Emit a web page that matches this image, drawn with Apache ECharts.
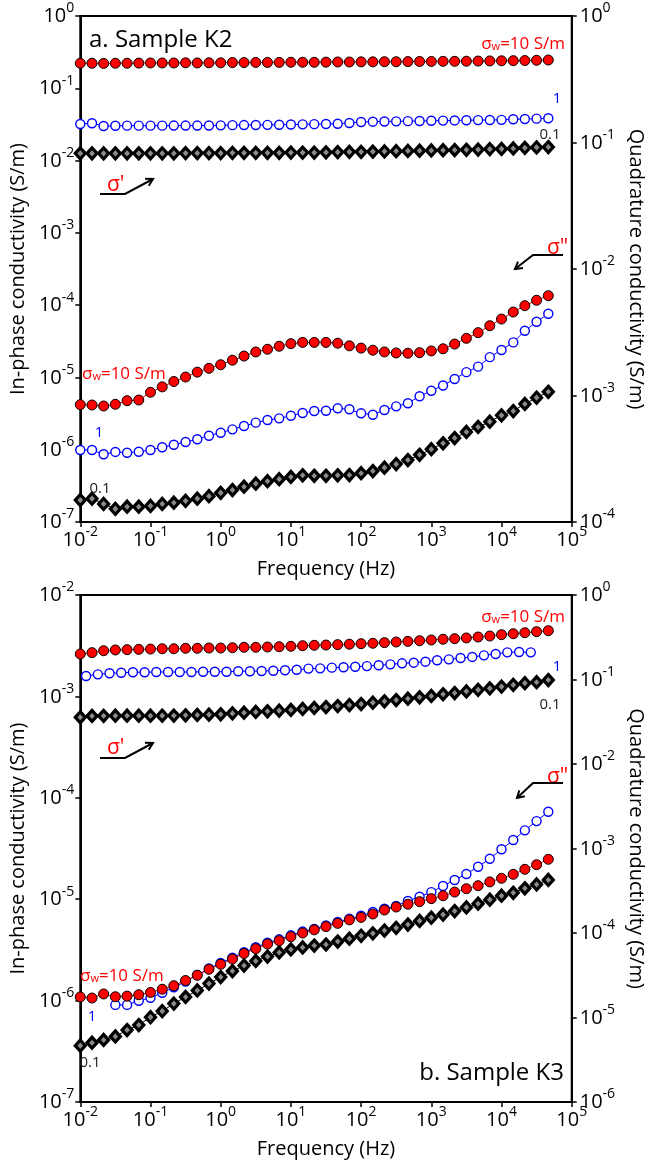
<!DOCTYPE html>
<html><head><meta charset="utf-8">
<script src="https://cdn.jsdelivr.net/npm/echarts@6/dist/echarts.min.js"></script>
<style>html,body{margin:0;padding:0;background:#fff}#c{width:654px;height:1167px}</style>
</head><body><div id="c"></div>
<script>
// ---------- DATA ----------
// Frequencies (Hz), 6 per decade
const freqs = [0.01,0.0147,0.0215,0.0316,0.0464,0.0681,0.1,0.147,0.215,0.316,0.464,0.681,1,1.47,2.15,3.16,4.64,6.81,10,14.7,21.5,31.6,46.4,68.1,100,147,215,316,464,681,1000,1470,2150,3160,4640,6810,10000,14700,21500,31600,46400];
// Frequencies of the sigma_w = 1 S/m in-phase data of sample K3 (offset by half a step)
const freqsHalf = [0.0121,0.0178,0.0261,0.0383,0.0562,0.0825,0.121,0.178,0.261,0.383,0.562,0.825,1.21,1.78,2.61,3.83,5.62,8.25,12.1,17.8,26.1,38.3,56.2,82.5,121,178,261,383,562,825,1210,1780,2610,3830,5620,8250,12100,17800,26100];
// Frequencies of the sigma_w = 1 S/m quadrature data of sample K3
const freqsK3Blue = [0.0316,0.0464,0.0681,0.1,0.147,0.215,0.316,0.464,0.681,1,1.47,2.15,3.16,4.64,6.81,10,14.7,21.5,31.6,46.4,68.1,100,147,215,316,464,681,1000,1470,2150,3160,4640,6810,10000,14700,21500,31600,46400];

// Sample K2 – in-phase conductivity sigma' (S/m)
const k2InPhase10 = [0.222,0.222,0.221,0.222,0.222,0.223,0.224,0.224,0.224,0.225,0.224,0.225,0.225,0.227,0.227,0.228,0.228,0.228,0.229,0.229,0.229,0.230,0.231,0.231,0.232,0.232,0.233,0.233,0.234,0.235,0.235,0.236,0.236,0.237,0.238,0.239,0.240,0.241,0.242,0.244,0.246];
const k2InPhase1 = [0.0321,0.0328,0.0301,0.0303,0.0304,0.0304,0.0304,0.0304,0.0305,0.0305,0.0305,0.0306,0.0307,0.0309,0.0310,0.0311,0.0312,0.0313,0.0315,0.0317,0.0319,0.0321,0.0323,0.0331,0.0342,0.0345,0.0347,0.0349,0.0351,0.0353,0.0355,0.0357,0.0359,0.0361,0.0363,0.0364,0.0366,0.0373,0.0376,0.0380,0.0385];
const k2InPhase01 = [0.0126,0.0126,0.0126,0.0126,0.0126,0.0126,0.0126,0.0126,0.0126,0.0127,0.0127,0.0127,0.0127,0.0128,0.0128,0.0128,0.0128,0.0128,0.0129,0.0129,0.0129,0.0130,0.0131,0.0132,0.0132,0.0133,0.0134,0.0135,0.0136,0.0137,0.0138,0.0139,0.0140,0.0141,0.0142,0.0144,0.0145,0.0147,0.0150,0.0152,0.0154];
// Sample K2 – quadrature conductivity sigma'' (S/m)
const k2Quad10 = [8.46e-4,8.41e-4,8.26e-4,8.52e-4,9.10e-4,9.21e-4,1.06e-3,1.17e-3,1.29e-3,1.40e-3,1.53e-3,1.64e-3,1.75e-3,1.90e-3,2.05e-3,2.21e-3,2.32e-3,2.45e-3,2.57e-3,2.63e-3,2.63e-3,2.63e-3,2.59e-3,2.47e-3,2.37e-3,2.28e-3,2.21e-3,2.17e-3,2.16e-3,2.18e-3,2.25e-3,2.34e-3,2.55e-3,2.83e-3,3.14e-3,3.56e-3,4.02e-3,4.57e-3,5.13e-3,5.66e-3,6.15e-3];
const k2Quad1 = [3.71e-4,3.71e-4,3.43e-4,3.58e-4,3.53e-4,3.59e-4,3.71e-4,3.90e-4,4.08e-4,4.29e-4,4.51e-4,4.81e-4,5.08e-4,5.40e-4,5.74e-4,6.10e-4,6.40e-4,6.60e-4,6.92e-4,7.27e-4,7.54e-4,7.58e-4,7.92e-4,7.78e-4,7.23e-4,7.05e-4,7.68e-4,8.21e-4,8.68e-4,9.86e-4,1.09e-3,1.20e-3,1.35e-3,1.53e-3,1.69e-3,2.01e-3,2.29e-3,2.63e-3,3.25e-3,3.83e-3,4.43e-3];
const k2Quad01 = [1.49e-4,1.53e-4,1.39e-4,1.27e-4,1.32e-4,1.32e-4,1.34e-4,1.39e-4,1.42e-4,1.47e-4,1.53e-4,1.60e-4,1.70e-4,1.79e-4,1.90e-4,2.01e-4,2.10e-4,2.18e-4,2.27e-4,2.34e-4,2.32e-4,2.32e-4,2.34e-4,2.35e-4,2.43e-4,2.53e-4,2.69e-4,2.87e-4,3.09e-4,3.40e-4,3.76e-4,4.19e-4,4.61e-4,5.15e-4,5.64e-4,6.21e-4,6.97e-4,7.54e-4,8.57e-4,9.61e-4,1.07e-3];

// Sample K3 – in-phase conductivity sigma' (S/m)
const k3InPhase10 = [2.62e-3,2.70e-3,2.82e-3,2.87e-3,2.89e-3,2.91e-3,2.93e-3,2.95e-3,2.95e-3,2.98e-3,2.98e-3,3.00e-3,3.00e-3,3.02e-3,3.05e-3,3.05e-3,3.07e-3,3.09e-3,3.12e-3,3.16e-3,3.19e-3,3.21e-3,3.24e-3,3.27e-3,3.31e-3,3.34e-3,3.39e-3,3.44e-3,3.49e-3,3.54e-3,3.60e-3,3.66e-3,3.71e-3,3.77e-3,3.85e-3,3.94e-3,4.06e-3,4.15e-3,4.25e-3,4.35e-3,4.45e-3];
const k3InPhase1 = [1.59e-3,1.65e-3,1.69e-3,1.71e-3,1.73e-3,1.73e-3,1.74e-3,1.74e-3,1.74e-3,1.74e-3,1.75e-3,1.75e-3,1.75e-3,1.77e-3,1.77e-3,1.78e-3,1.79e-3,1.81e-3,1.83e-3,1.88e-3,1.89e-3,1.92e-3,1.94e-3,1.96e-3,1.99e-3,2.03e-3,2.07e-3,2.12e-3,2.15e-3,2.20e-3,2.27e-3,2.32e-3,2.39e-3,2.45e-3,2.54e-3,2.62e-3,2.72e-3,2.74e-3,2.72e-3];
const k3InPhase01 = [6.22e-4,6.41e-4,6.43e-4,6.45e-4,6.45e-4,6.45e-4,6.45e-4,6.46e-4,6.47e-4,6.51e-4,6.56e-4,6.61e-4,6.66e-4,6.81e-4,6.90e-4,7.02e-4,7.13e-4,7.23e-4,7.35e-4,7.52e-4,7.69e-4,7.86e-4,8.04e-4,8.22e-4,8.41e-4,8.67e-4,8.95e-4,9.21e-4,9.49e-4,9.80e-4,1.01e-3,1.05e-3,1.08e-3,1.12e-3,1.16e-3,1.20e-3,1.25e-3,1.30e-3,1.35e-3,1.38e-3,1.45e-3];
// Sample K3 – quadrature conductivity sigma'' (S/m)
const k3Quad10 = [1.75e-5,1.70e-5,1.90e-5,1.76e-5,1.79e-5,1.86e-5,1.98e-5,2.16e-5,2.38e-5,2.74e-5,3.16e-5,3.72e-5,4.26e-5,4.92e-5,5.72e-5,6.52e-5,7.41e-5,8.11e-5,9.04e-5,1.00e-4,1.09e-4,1.19e-4,1.30e-4,1.43e-4,1.53e-4,1.68e-4,1.87e-4,2.03e-4,2.19e-4,2.35e-4,2.55e-4,2.76e-4,3.05e-4,3.34e-4,3.63e-4,4.02e-4,4.44e-4,4.95e-4,5.67e-4,6.43e-4,7.45e-4];
const k3Quad1 = [1.41e-5,1.41e-5,1.58e-5,1.71e-5,1.96e-5,2.28e-5,2.67e-5,3.18e-5,3.80e-5,4.42e-5,5.10e-5,5.91e-5,6.78e-5,7.68e-5,8.42e-5,9.39e-5,1.04e-4,1.12e-4,1.23e-4,1.35e-4,1.48e-4,1.60e-4,1.77e-4,1.94e-4,2.09e-4,2.39e-4,2.69e-4,3.05e-4,3.60e-4,4.24e-4,4.99e-4,6.09e-4,7.57e-4,9.79e-4,1.26e-3,1.64e-3,2.11e-3,2.72e-3];
const k3Quad01 = [4.64e-6,5.03e-6,5.42e-6,5.96e-6,7.11e-6,8.15e-6,1.01e-5,1.19e-5,1.46e-5,1.75e-5,2.09e-5,2.52e-5,3.01e-5,3.55e-5,4.12e-5,4.67e-5,5.27e-5,5.88e-5,6.38e-5,6.74e-5,7.11e-5,7.31e-5,7.93e-5,8.57e-5,9.27e-5,9.91e-5,1.07e-4,1.15e-4,1.26e-4,1.39e-4,1.52e-4,1.65e-4,1.82e-4,2.01e-4,2.22e-4,2.48e-4,2.76e-4,2.99e-4,3.38e-4,3.75e-4,4.24e-4];

// Tick label exponents (labels are 10^e)
const xTickExps = [-2,-1,0,1,2,3,4,5];
const k2LeftExps = [-7,-6,-5,-4,-3,-2,-1,0];
const k2RightExps = [-4,-3,-2,-1,0];
const k3LeftExps = [-7,-6,-5,-4,-3,-2];
const k3RightExps = [-6,-5,-4,-3,-2,-1,0];

// ---------- STYLE ----------
const FONT = '"Open Sans", "Noto Sans", sans-serif';
const RED = '#ff0000', BLUE = '#0000ff';

const tickRich = {
  b: {fontSize: 20, fontFamily: FONT, color: '#000', lineHeight: 21, verticalAlign: 'bottom'},
  s: {fontSize: 14, fontFamily: FONT, color: '#000', lineHeight: 15, verticalAlign: 'bottom', padding: [0, 0, 11, 0]}
};
function powFmt(exps) {
  return function (v) {
    const e = Math.round(Math.log10(v));
    return exps.indexOf(e) >= 0 ? '{b|10}{s|' + e + '}' : '';
  };
}
function xAxisCfg(gi) {
  return {
    type: 'log', logBase: 10, gridIndex: gi, min: 0.01, max: 1e5,
    name: 'Frequency (Hz)', nameLocation: 'middle', nameGap: 37,
    nameTextStyle: {fontSize: 20, fontFamily: FONT, color: '#000'},
    axisLine: {show: true, onZero: false, lineStyle: {color: '#000', width: 2}},
    axisTick: {show: true, length: 5, lineStyle: {color: '#000', width: 1.5}},
    minorTick: {show: false}, splitLine: {show: false}, minorSplitLine: {show: false},
    axisLabel: {margin: 7, formatter: powFmt(xTickExps), rich: tickRich}
  };
}
function yAxisCfg(gi, pos, min, max, name, exps) {
  const left = pos === 'left';
  return {
    type: 'log', logBase: 10, gridIndex: gi, position: pos, min: min, max: max,
    name: name, nameLocation: 'middle', nameGap: left ? 45 : 51, nameRotate: left ? 90 : -90,
    nameTextStyle: {fontSize: 20, fontFamily: FONT, color: '#000'},
    axisLine: {show: true, onZero: false, lineStyle: {color: '#000', width: 2}},
    axisTick: {show: true, length: 5, lineStyle: {color: '#000', width: 1.5}},
    minorTick: {show: false}, splitLine: {show: false}, minorSplitLine: {show: false},
    axisLabel: {margin: left ? 6 : 8, formatter: powFmt(exps), rich: tickRich}
  };
}
const kinds = {
  red: {symbol: 'circle', symbolSize: 10, itemStyle: {color: RED, borderColor: '#000', borderWidth: 1}, lineStyle: {color: RED, width: 1}},
  blue: {symbol: 'circle', symbolSize: 9, itemStyle: {color: '#fff', borderColor: BLUE, borderWidth: 1.4}, lineStyle: {color: BLUE, width: 1}},
  black: {symbol: 'diamond', symbolSize: [10, 11], itemStyle: {color: '#8a8a8a', borderColor: '#000', borderWidth: 3.2}, lineStyle: {color: '#000', width: 1}}
};
function series(name, xs, ys, xi, yi, kind, z) {
  const k = kinds[kind];
  return {
    name: name, type: 'line', xAxisIndex: xi, yAxisIndex: yi, z: z,
    data: xs.map((f, i) => [f, ys[i]]),
    symbol: k.symbol, symbolSize: k.symbolSize, showSymbol: true,
    itemStyle: k.itemStyle, lineStyle: k.lineStyle,
    silent: true, animation: false, emphasis: {disabled: true}
  };
}

// ---------- ANNOTATIONS ----------
function txt(x, y, text, color, size, align) {
  return {type: 'text', x: x, y: y, silent: true, z: 50,
    style: {text: text, fill: color, font: size + 'px ' + FONT, align: align || 'center', verticalAlign: 'middle'}};
}
function sigmaW(x, y, align) {
  return {type: 'text', x: x, y: y, silent: true, z: 50,
    style: {text: '{a|σ}{w|w}{a|=10 S/m}', align: align, verticalAlign: 'middle', fill: RED,
      rich: {a: {fontSize: 17, fontFamily: FONT, fill: RED, color: RED, verticalAlign: 'bottom', lineHeight: 19},
             w: {fontSize: 11, fontFamily: FONT, fill: RED, color: RED, verticalAlign: 'bottom', lineHeight: 12}}}};
}
function arrow(pts) {
  const n = pts.length;
  const [x1, y1] = pts[n - 2], [x2, y2] = pts[n - 1];
  const ang = Math.atan2(y2 - y1, x2 - x1), L = 8, A = Math.PI / 6;
  const h1 = [x2 - L * Math.cos(ang - A), y2 - L * Math.sin(ang - A)];
  const h2 = [x2 - L * Math.cos(ang + A), y2 - L * Math.sin(ang + A)];
  return [
    {type: 'polyline', silent: true, z: 50, shape: {points: pts}, style: {stroke: '#000', lineWidth: 2, fill: 'none'}},
    {type: 'polyline', silent: true, z: 50, shape: {points: [h1, [x2, y2], h2]}, style: {stroke: '#000', lineWidth: 2, fill: 'none'}}
  ];
}
const graphics = [
  txt(89, 40, 'a. Sample K2', '#000', 24, 'left'),
  sigmaW(565, 43, 'right'),
  txt(557, 99, '1', BLUE, 15),
  txt(550, 135, '0.1', '#222', 15),
  txt(107, 185, "σ'", RED, 21, 'left'),
  ...arrow([[100, 194], [125, 194], [153, 179]]),
  txt(547, 248, 'σ"', RED, 21, 'left'),
  ...arrow([[563, 255], [533, 255], [515, 269]]),
  sigmaW(82, 373, 'left'),
  txt(99, 433, '1', BLUE, 15),
  txt(100, 489, '0.1', '#222', 15),

  txt(564, 1073, 'b. Sample K3', '#000', 24, 'right'),
  sigmaW(565, 616, 'right'),
  txt(557, 667, '1', BLUE, 15),
  txt(550, 705, '0.1', '#222', 15),
  txt(107, 748, "σ'", RED, 21, 'left'),
  ...arrow([[100, 758], [125, 758], [153, 743]]),
  txt(547, 777, 'σ"', RED, 21, 'left'),
  ...arrow([[563, 783], [533, 783], [517, 798]]),
  sigmaW(80, 975, 'left'),
  txt(92, 1017, '1', BLUE, 15),
  txt(90, 1063, '0.1', '#222', 15)
];

// ---------- CHART ----------
const chart = echarts.init(document.getElementById('c'), null, {renderer: 'canvas'});
chart.setOption({
  animation: false,
  backgroundColor: '#fff',
  textStyle: {fontFamily: FONT},
  grid: [
    {left: 77, top: 16, width: 506, height: 506, show: true, borderColor: '#000', borderWidth: 2, backgroundColor: 'transparent'},
    {left: 77, top: 595, width: 506, height: 507, show: true, borderColor: '#000', borderWidth: 2, backgroundColor: 'transparent'}
  ],
  xAxis: [xAxisCfg(0), xAxisCfg(1)],
  yAxis: [
    yAxisCfg(0, 'left', 1e-7, 1, 'In-phase conductivity (S/m)', k2LeftExps),
    yAxisCfg(0, 'right', 1e-4, 1, 'Quadrature conductivity (S/m)', k2RightExps),
    yAxisCfg(1, 'left', 1e-7, 1e-2, 'In-phase conductivity (S/m)', k3LeftExps),
    yAxisCfg(1, 'right', 1e-6, 1, 'Quadrature conductivity (S/m)', k3RightExps)
  ],
  series: [
    series('K2 σ\' 0.1', freqs, k2InPhase01, 0, 0, 'black', 2),
    series('K2 σ\' 1', freqs, k2InPhase1, 0, 0, 'blue', 3),
    series('K2 σ\' 10', freqs, k2InPhase10, 0, 0, 'red', 4),
    series('K2 σ" 0.1', freqs, k2Quad01, 0, 1, 'black', 2),
    series('K2 σ" 1', freqs, k2Quad1, 0, 1, 'blue', 3),
    series('K2 σ" 10', freqs, k2Quad10, 0, 1, 'red', 4),
    series('K3 σ\' 0.1', freqs, k3InPhase01, 1, 2, 'black', 2),
    series('K3 σ\' 1', freqsHalf, k3InPhase1, 1, 2, 'blue', 3),
    series('K3 σ\' 10', freqs, k3InPhase10, 1, 2, 'red', 4),
    series('K3 σ" 0.1', freqs, k3Quad01, 1, 3, 'black', 2),
    series('K3 σ" 1', freqsK3Blue, k3Quad1, 1, 3, 'blue', 3),
    series('K3 σ" 10', freqs, k3Quad10, 1, 3, 'red', 4)
  ],
  graphic: graphics
});
</script></body></html>
